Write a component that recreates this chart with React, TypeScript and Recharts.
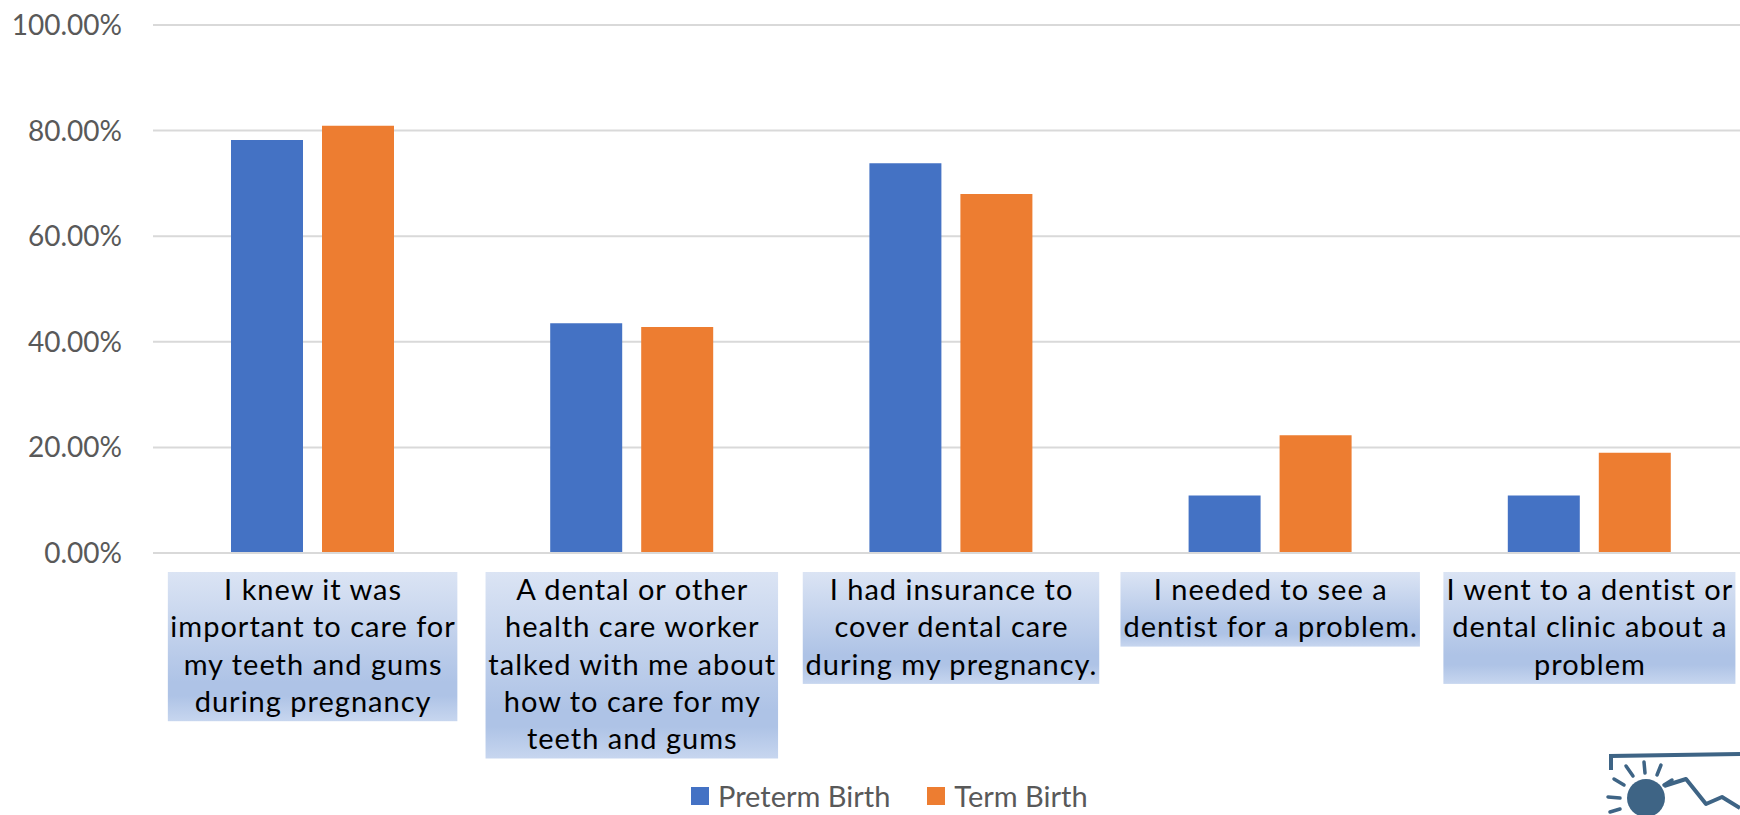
import React from 'react';
import { BarChart, Bar, XAxis, YAxis, CartesianGrid, Legend } from 'recharts';

const categories = [
  'I knew it was important to care for my teeth and gums during pregnancy',
  'A dental or other health care worker talked with me about how to care for my teeth and gums',
  'I had insurance to cover dental care during my pregnancy.',
  'I needed to see a dentist for a problem.',
  'I went to a dentist or dental clinic about a problem',
];
const categoryLines = [
  ['I knew it was', 'important to care for', 'my teeth and gums', 'during pregnancy'],
  ['A dental or other', 'health care worker', 'talked with me about', 'how to care for my', 'teeth and gums'],
  ['I had insurance to', 'cover dental care', 'during my pregnancy.'],
  ['I needed to see a', 'dentist for a problem.'],
  ['I went to a dentist or', 'dental clinic about a', 'problem'],
];
const pretermValues = [78.2, 43.5, 73.8, 10.9, 10.9];
const termValues = [80.9, 42.8, 68.0, 22.3, 19.0];
const yTicks = [0, 20, 40, 60, 80, 100];
const seriesNames = ['Preterm Birth', 'Term Birth'];
const seriesColors = ['#4472C4', '#ED7D31'];

const data = categories.map((c, i) => ({
  category: c,
  preterm: pretermValues[i],
  term: termValues[i],
}));

const FONT = 'Lato, "Open Sans", sans-serif';
const LABEL_SIZE = 29;
const LABEL_SPACING = 1;
const LINE_H = 37.3;

let ctx: CanvasRenderingContext2D | null = null;
function measure(s: string, size: number) {
  if (!ctx) ctx = document.createElement('canvas').getContext('2d');
  if (!ctx) return s.length * size * 0.5;
  ctx.font = `${size}px Lato`;
  return ctx.measureText(s).width + s.length * LABEL_SPACING;
}

function CategoryTick(props: any) {
  const { x, y, payload } = props;
  const idx = categories.indexOf(payload.value);
  const lines = categoryLines[idx] || [payload.value];
  const w = Math.max(...lines.map((l) => measure(l, LABEL_SIZE))) + 4;
  const h = lines.length * LINE_H;
  const top = y + 19;
  const gid = `lblgrad${idx}`;
  return (
    <g>
      <defs>
        <linearGradient id={gid} x1="0" y1="0" x2="0" y2="1">
          <stop offset="0" stopColor="#DBE4F4" />
          <stop offset="0.74" stopColor="#AEC3E6" />
          <stop offset="0.83" stopColor="#AEC3E6" />
          <stop offset="1" stopColor="#C7D6EF" />
        </linearGradient>
      </defs>
      <rect x={x - w / 2} y={top} width={w} height={h} fill={`url(#${gid})`} />
      {lines.map((l, i) => (
        <text
          key={i}
          x={x + LABEL_SPACING / 2}
          y={top + i * LINE_H + 28}
          textAnchor="middle"
          fill="#000000"
          fontFamily={FONT}
          fontSize={LABEL_SIZE}
          letterSpacing={LABEL_SPACING}
        >
          {l}
        </text>
      ))}
    </g>
  );
}

function LegendContent() {
  return (
    <div style={{ display: 'flex', alignItems: 'center', fontFamily: FONT, fontSize: 29, color: '#595959' }}>
      {seriesNames.map((n, i) => (
        <div key={n} style={{ display: 'flex', alignItems: 'center', marginRight: i === 0 ? 37 : 0 }}>
          <div style={{ width: 18, height: 18, background: seriesColors[i], marginRight: 9 }} />
          <span style={{ lineHeight: '24px' }}>{n}</span>
        </div>
      ))}
    </div>
  );
}

function Logo() {
  const c = '#3E6485';
  return (
    <svg width={1740} height={815} style={{ position: 'absolute', left: 0, top: 0, pointerEvents: 'none' }}>
      <path d="M1611 770 L1611 756 L1740 754" stroke={c} strokeWidth={4} fill="none" />
      <circle cx={1646} cy={798} r={19} fill={c} />
      <g stroke={c} strokeWidth={3.5} strokeLinecap="round">
        <line x1={1626} y1={766} x2={1633} y2={776} />
        <line x1={1644} y1={762} x2={1645} y2={773} />
        <line x1={1661} y1={765} x2={1657} y2={775} />
        <line x1={1614} y1={779} x2={1624} y2={785} />
        <line x1={1608} y1={797} x2={1620} y2={798} />
        <line x1={1610} y1={812} x2={1620} y2={809} />
        <line x1={1672} y1={780} x2={1664} y2={785} />
      </g>
      <path d="M1664 786 L1686 779 L1706 804 L1722 797 L1740 808" stroke={c} strokeWidth={4} fill="none" strokeLinejoin="round" />
    </svg>
  );
}

export default function App() {
  return (
    <div style={{ position: 'absolute', left: 0, top: 0, width: 1740, height: 815, overflow: 'hidden', background: '#ffffff' }}>
      <BarChart
        width={1749}
        height={815}
        data={data}
        margin={{ top: 25, right: 0, left: 0, bottom: 0 }}
        barSize={72}
        barGap={19}
      >
        <CartesianGrid vertical={false} stroke="#D9D9D9" strokeWidth={2} />
        <XAxis
          dataKey="category"
          height={262}
          axisLine={{ stroke: '#D9D9D9', strokeWidth: 2 }}
          tickLine={false}
          tickSize={0}
          tickMargin={0}
          interval={0}
          tick={<CategoryTick />}
        />
        <YAxis
          width={153}
          domain={[0, 100]}
          ticks={yTicks}
          axisLine={false}
          tickLine={false}
          tickSize={0}
          tickMargin={31}
          tickFormatter={(v: number) => `${v.toFixed(2)}%`}
          tick={{ fill: '#595959', fontFamily: FONT, fontSize: 28 }}
        />
        <Legend
          verticalAlign="middle"
          layout="horizontal"
          align="center"
          content={<LegendContent />}
          wrapperStyle={{ top: 784, left: 691, width: 'auto' }}
        />
        <Bar dataKey="preterm" name={seriesNames[0]} fill={seriesColors[0]} isAnimationActive={false} />
        <Bar dataKey="term" name={seriesNames[1]} fill={seriesColors[1]} isAnimationActive={false} />
      </BarChart>
      <Logo />
    </div>
  );
}
